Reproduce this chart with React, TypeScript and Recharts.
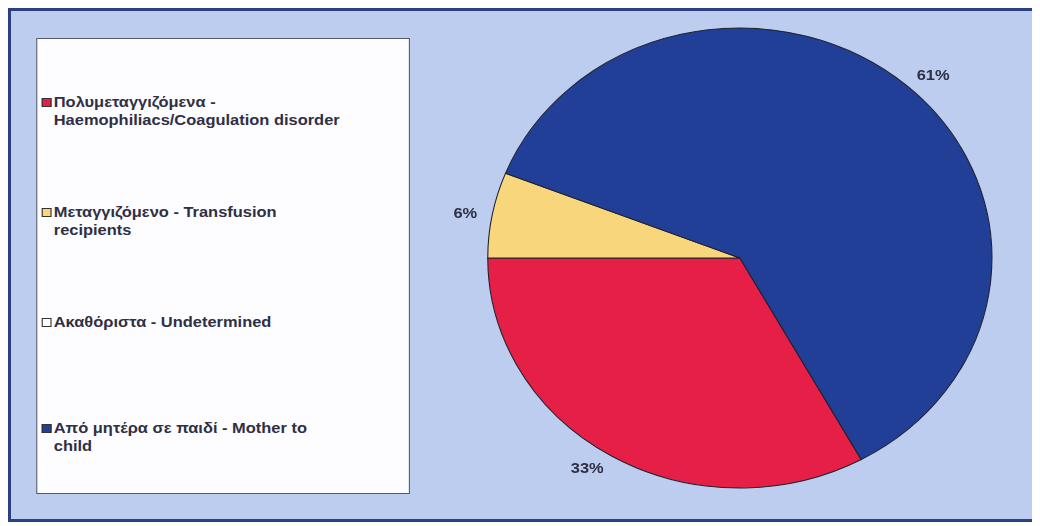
import { PieChart, Pie, Cell } from 'recharts';

const CATEGORIES = [
  ['Πολυμεταγγιζόμενα -', 'Haemophiliacs/Coagulation disorder'],
  ['Μεταγγιζόμενο - Transfusion', 'recipients'],
  ['Ακαθόριστα - Undetermined'],
  ['Από μητέρα σε παιδί - Mother to', 'child'],
];
const VALUES = [33, 6, 0, 61];
const COLORS = ['#e61f47', '#f8d67c', '#ffffff', '#213f97'];

// the scanned original is stretched sideways, so the whole panel is scaled the same way
const STRETCH = 1.096;
const RADIUS = 230;
const TEXT = '#2f2f45';
const FONT = '"Liberation Sans", Arial, sans-serif';

const total = VALUES.reduce((a, b) => a + b, 0);
const pieData = VALUES.map((value, i) => ({
  name: CATEGORIES[i].join(' '),
  value,
  color: COLORS[i],
})).filter((d) => d.value > 0);
// clockwise, with the first slice ending at 9 o'clock
const START = 180 + (VALUES[0] / total) * 360;

const renderLabel = ({ cx, cy, midAngle, outerRadius, percent }: any) => {
  const RADIAN = Math.PI / 180;
  const r = outerRadius + 14;
  const x = cx + r * Math.cos(-midAngle * RADIAN);
  const y = cy + r * Math.sin(-midAngle * RADIAN);
  return (
    <text
      x={x}
      y={y}
      fill={TEXT}
      textAnchor={x >= cx ? 'start' : 'end'}
      dominantBaseline="central"
      style={{ fontSize: '15px', fontWeight: 'bold', fontFamily: FONT }}
    >
      {`${Math.round(percent * 100)}%`}
    </text>
  );
};

export default function App() {
  return (
    <div
      style={{
        width: 1028,
        height: 514,
        boxSizing: 'border-box',
        border: '3px solid #2b3f86',
        background: '#bdcdf0',
        position: 'relative',
        overflow: 'hidden',
      }}
    >
      <div
        style={{
          position: 'absolute',
          left: 0,
          top: 0,
          width: 1022 / STRETCH,
          height: 508,
          transform: `scaleX(${STRETCH})`,
          transformOrigin: '0 0',
        }}
      >
        <div
          style={{
            position: 'absolute',
            left: 23,
            top: 27,
            width: 341,
            height: 456,
            boxSizing: 'border-box',
            background: '#fdfdff',
            border: '1px solid #55586a',
            fontFamily: FONT,
          }}
        >
          {CATEGORIES.map((lines, i) => (
            <div
              key={i}
              style={{
                position: 'absolute',
                left: 4,
                top: [54, 164, 274, 380][i],
                display: 'flex',
                alignItems: 'flex-start',
                color: TEXT,
                fontSize: '15px',
                fontWeight: 'bold',
                lineHeight: '18px',
              }}
            >
              <span
                style={{
                  display: 'inline-block',
                  width: 7,
                  height: 7,
                  marginTop: 5,
                  marginRight: 2,
                  background: COLORS[i],
                  border: '1px solid #333',
                }}
              />
              <div>
                {lines.map((line, j) => (
                  <div key={j}>{line}</div>
                ))}
              </div>
            </div>
          ))}
        </div>
        <div style={{ position: 'absolute', left: 375, top: 0 }}>
          <PieChart width={540} height={505} margin={{ top: 0, right: 0, bottom: 0, left: 0 }}>
            <Pie
              data={pieData}
              dataKey="value"
              cx={290}
              cy={247}
              outerRadius={RADIUS}
              startAngle={START}
              endAngle={START - 360}
              stroke="#22222e"
              strokeWidth={1}
              labelLine={false}
              label={renderLabel}
              isAnimationActive={false}
            >
              {pieData.map((entry, index) => (
                <Cell key={`cell-${index}`} fill={entry.color} />
              ))}
            </Pie>
          </PieChart>
        </div>
      </div>
    </div>
  );
}
